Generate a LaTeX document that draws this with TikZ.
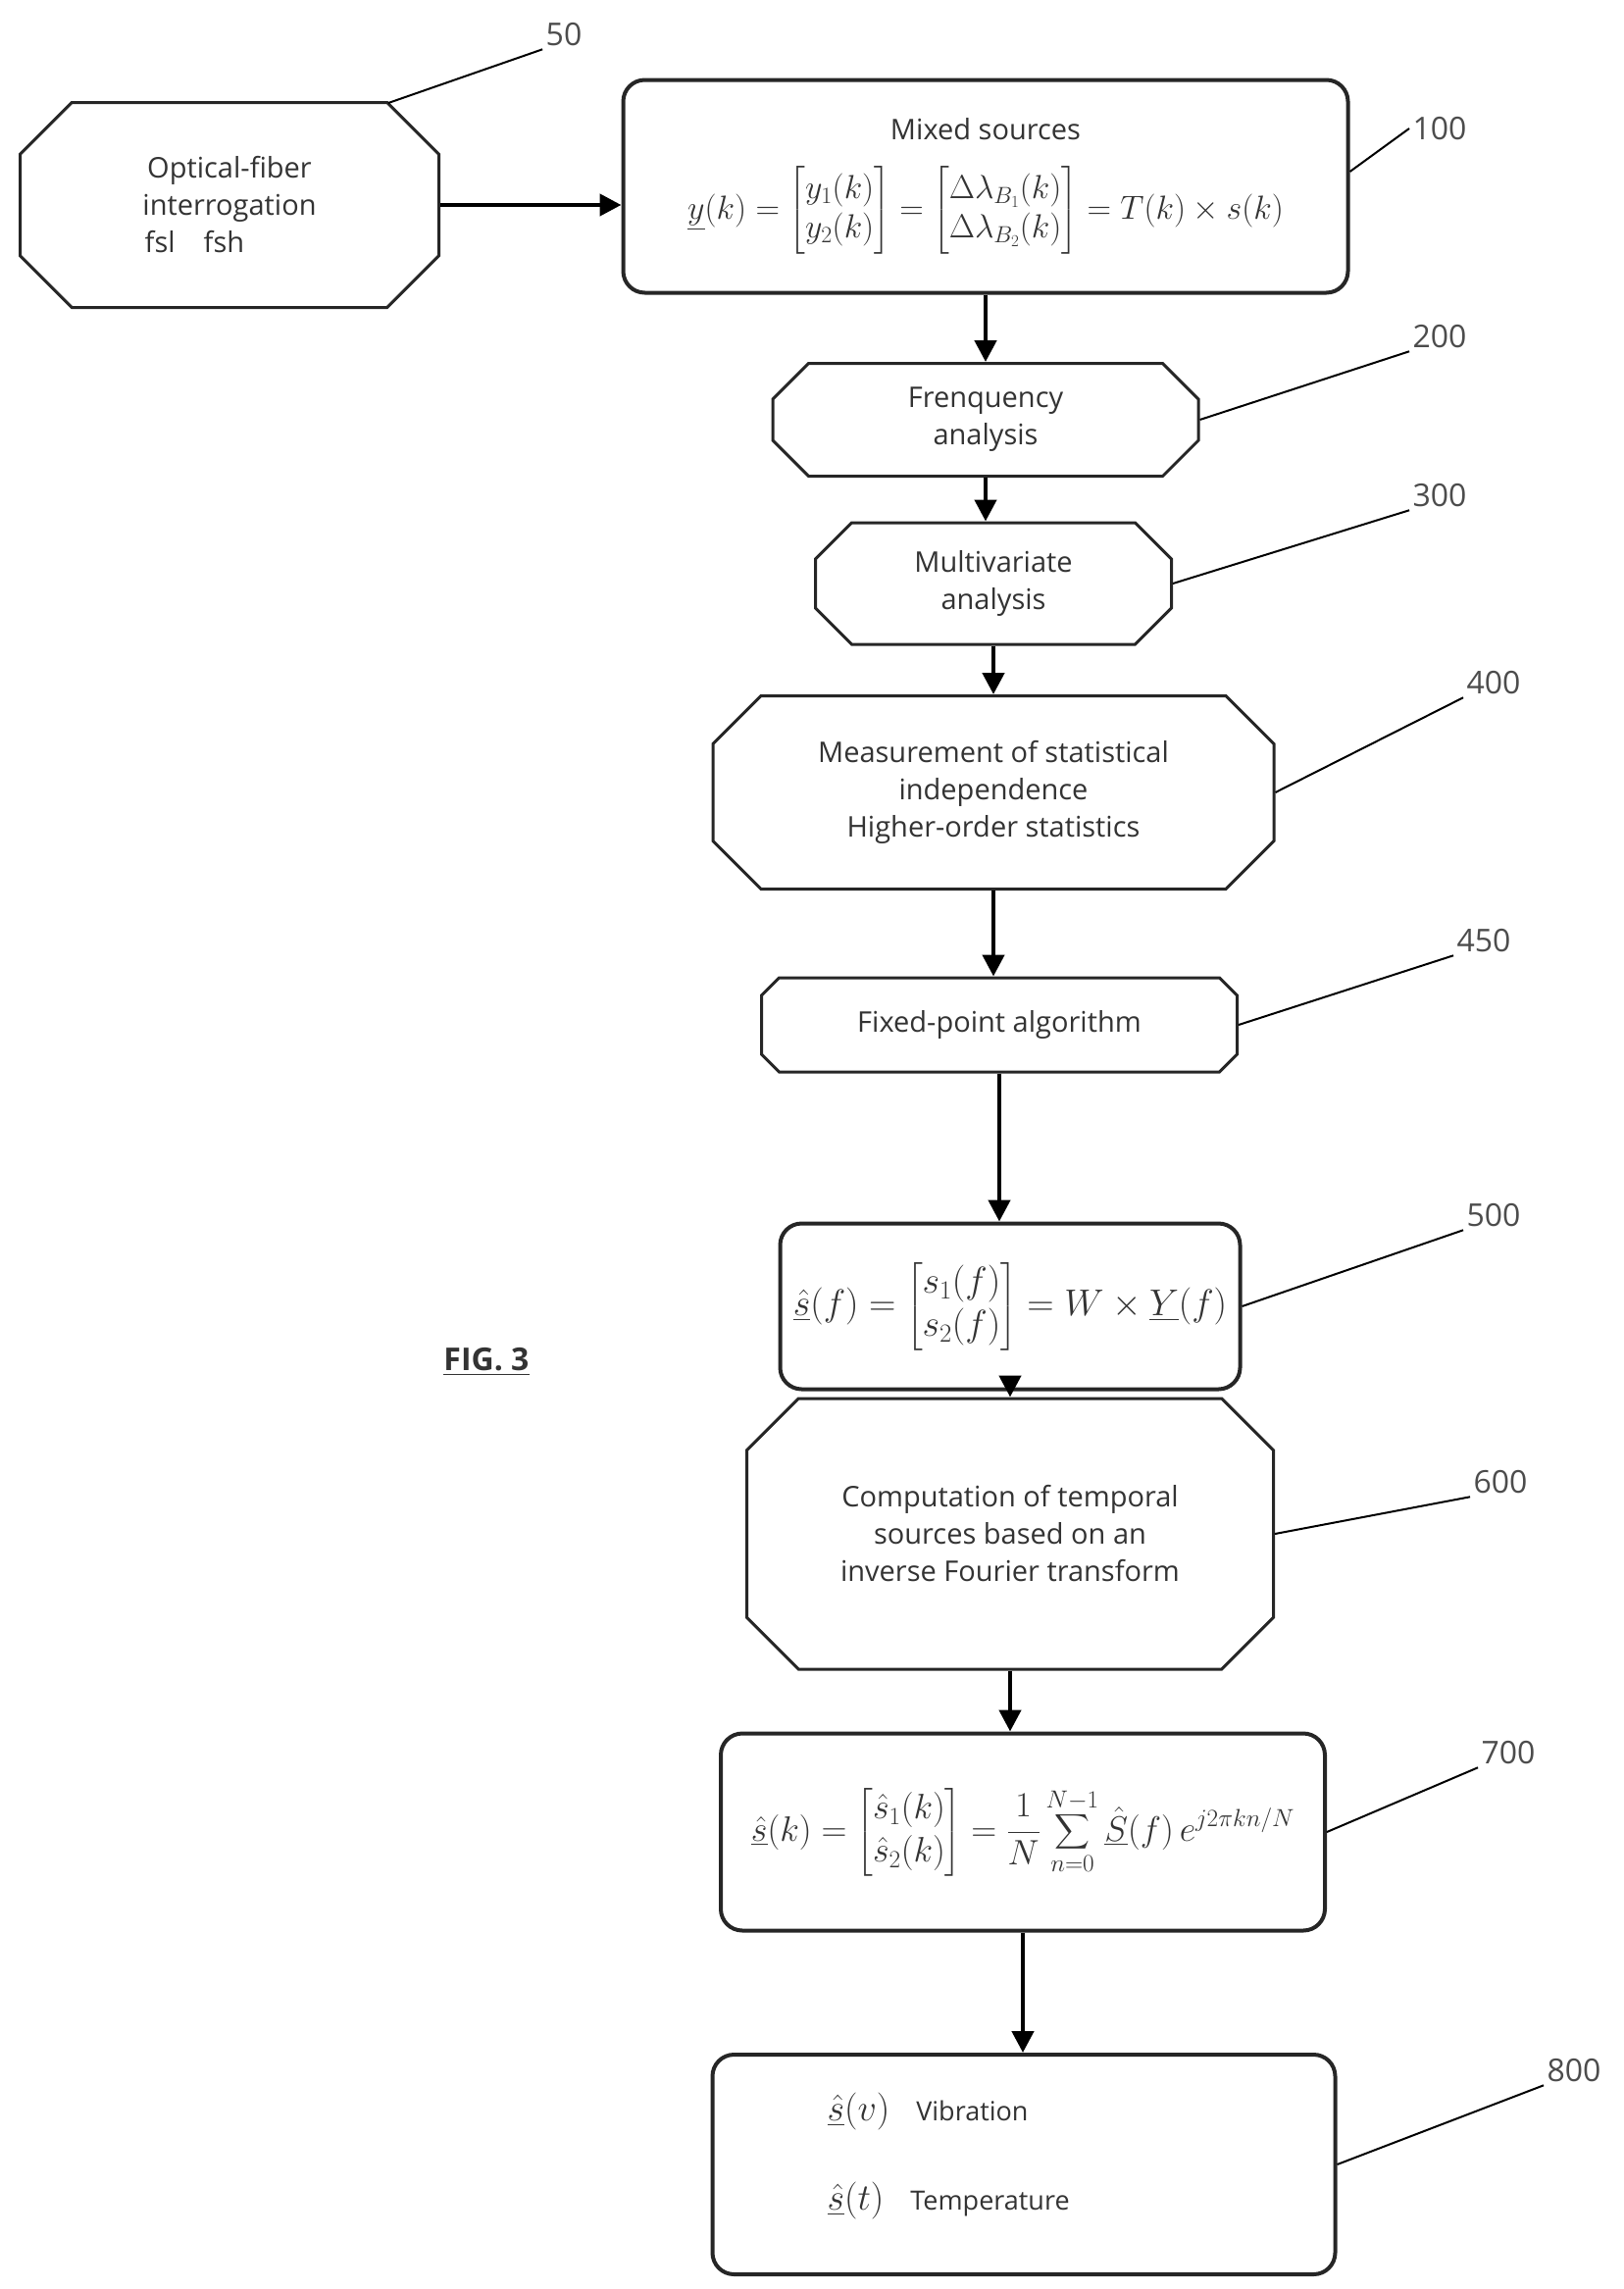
\RequirePackage{fix-cm}
\documentclass[tikz,border=0pt]{standalone}
\usepackage{amsmath}
\usepackage{fontspec}
\setmainfont{Open Sans}
\usetikzlibrary{shapes.misc,arrows.meta}
\begin{document}
\begin{tikzpicture}[x=1pt,y=-1pt,
  every node/.style={font=\fontsize{29}{38}\selectfont, align=center, text=black!80},
  oct/.style={draw=black!85, line width=3pt, chamfered rectangle, chamfered rectangle xsep=#1, inner sep=0pt},
  rbox/.style={draw=black!85, line width=4pt, rounded corners=22pt, inner sep=0pt},
  arr/.style={line width=4.5pt, -{Triangle[length=22pt,width=22pt]}},
  lead/.style={line width=2pt},
  lab/.style={font=\fontsize{32}{36}\selectfont, text=black!70}]
\useasboundingbox (0,0) rectangle (1656,2334);
\node[oct=2cm, minimum width=427pt, minimum height=209pt] (n50) at (234,209) {Optical-fiber\\interrogation\\fsl\quad fsh\hspace*{2.5cm}};
\node[rbox, minimum width=739pt, minimum height=217pt] (n100) at (1005,190) {Mixed sources\\[26pt]
{\fontsize{34}{40}\selectfont$\underline{y}(k)=\begin{bmatrix}y_1(k)\\ y_2(k)\end{bmatrix}=\begin{bmatrix}\Delta\lambda_{B_1}(k)\\ \Delta\lambda_{B_2}(k)\end{bmatrix}=T(k)\times s(k)$}};
\node[oct=1.3cm, minimum width=434pt, minimum height=115pt] (n200) at (1005,428) {Frenquency\\analysis};
\node[oct=1.3cm, minimum width=363pt, minimum height=124pt] (n300) at (1013,595) {Multivariate\\analysis};
\node[oct=1.6cm, minimum width=572pt, minimum height=197pt] (n400) at (1013,808) {Measurement of statistical\\independence\\Higher-order statistics};
\node[oct=0.9cm, minimum width=485pt, minimum height=96pt] (n450) at (1019,1045) {Fixed-point algorithm};
\node[rbox, minimum width=469pt, minimum height=169pt, font=\fontsize{38}{44}\selectfont] (n500) at (1030,1332) {$\underline{\hat{s}}(f)=\begin{bmatrix}s_1(f)\\ s_2(f)\end{bmatrix}=W\times\underline{Y}(f)$};
\node[oct=2cm, minimum width=537pt, minimum height=276pt] (n600) at (1030,1564) {Computation of temporal\\sources based on an\\inverse Fourier transform};
\node[rbox, minimum width=616pt, minimum height=201pt, font=\fontsize{36}{44}\selectfont] (n700) at (1043,1868) {$\underline{\hat{s}}(k)=\begin{bmatrix}\hat{s}_1(k)\\ \hat{s}_2(k)\end{bmatrix}=\dfrac{1}{N}\displaystyle\sum_{n=0}^{N-1}\underline{\hat{S}}(f)\,e^{j2\pi kn/N}$};
\node[rbox, minimum width=635pt, minimum height=224pt] (n800) at (1044,2207) {};
\node[anchor=west, font=\fontsize{27}{30}\selectfont] (v) at (840,2153) {{\fontsize{38}{40}\selectfont$\underline{\hat{s}}(v)$}\quad Vibration};
\node[anchor=west, font=\fontsize{27}{30}\selectfont] (t) at (840,2244) {{\fontsize{38}{40}\selectfont$\underline{\hat{s}}(t)$}\quad Temperature};
\node[font=\bfseries\fontsize{32}{36}\selectfont] (fig) at (496,1389) {\underline{FIG. 3}};
% labels
\node[lab] (l50) at (575,35) {50};
\node[lab] (l100) at (1468,131) {100};
\node[lab] (l200) at (1468,343) {200};
\node[lab] (l300) at (1468,505) {300};
\node[lab] (l400) at (1523,696) {400};
\node[lab] (l450) at (1513,959) {450};
\node[lab] (l500) at (1523,1239) {500};
\node[lab] (l600) at (1530,1511) {600};
\node[lab] (l700) at (1538,1787) {700};
\node[lab] (l800) at (1605,2111) {800};
% arrows
\draw[arr] (n50.east) -- (n50.east -| n100.west);
\draw[arr] (n100.south) -- (n200.north);
\draw[arr] (n200.south) -- (n200.south |- n300.north);
\draw[arr] (n300.south) -- (n300.south |- n400.north);
\draw[arr] (n400.south) -- (n400.south |- n450.north);
\draw[arr] (n450.south) -- (n450.south |- n500.north);
\draw[arr] (n500.south) -- (n500.south |- n600.north);
\draw[arr] (n600.south) -- (n600.south |- n700.north);
\draw[arr] (n700.south) -- (n700.south |- n800.north);
% leaders
\draw[lead] (396,105) -- (l50.south west);
\draw[lead] (n100.east) ++(0,-15) -- (l100.west);
\draw[lead] (n200.east) -- (l200.south west);
\draw[lead] (n300.east) -- (l300.south west);
\draw[lead] (n400.east) -- (l400.south west);
\draw[lead] (n450.east) -- (l450.south west);
\draw[lead] (n500.east) -- (l500.south west);
\draw[lead] (n600.east) -- (l600.south west);
\draw[lead] (n700.east) -- (l700.south west);
\draw[lead] (n800.east) -- (l800.south west);
\end{tikzpicture}
\end{document}
